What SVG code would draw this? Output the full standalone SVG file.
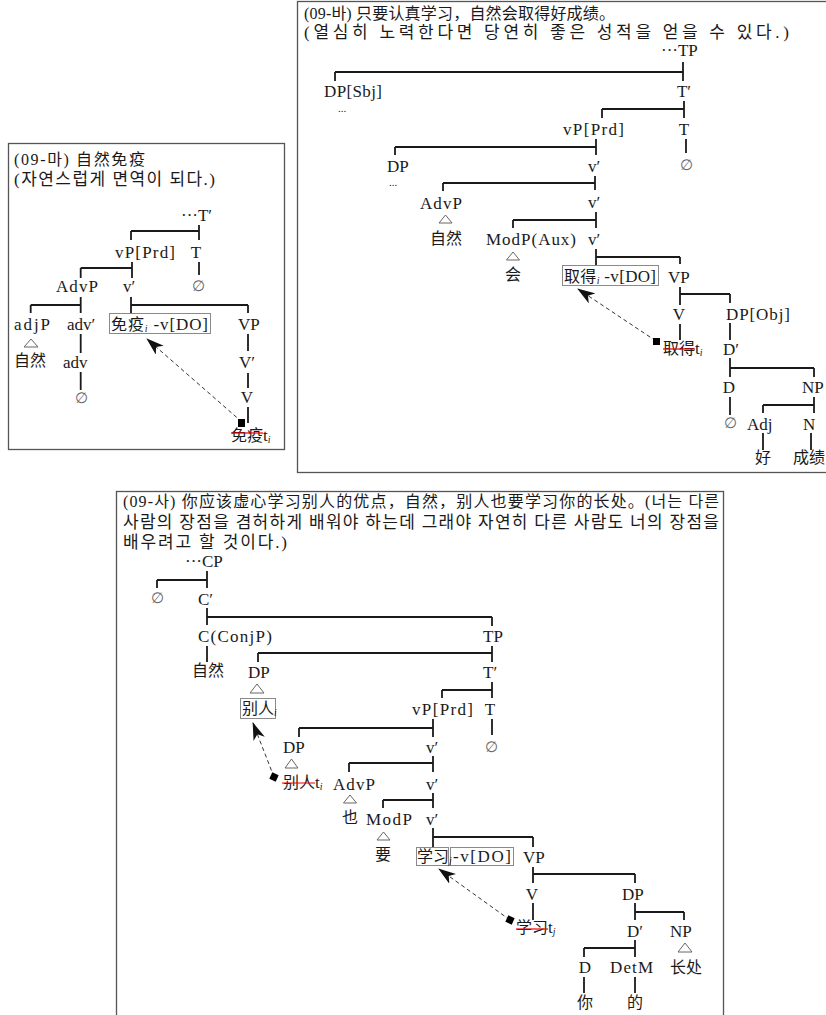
<svg xmlns="http://www.w3.org/2000/svg" width="826" height="1015" viewBox="0 0 826 1015">
<style>
.t{font-family:"Liberation Serif","Noto Sans CJK SC",serif;font-size:17px;fill:#1a1a1a}
.c{font-family:"Noto Sans CJK SC","Liberation Serif",sans-serif;font-size:16px;fill:#1a1a1a}
.h{font-family:"Liberation Serif","Noto Sans CJK SC","Noto Sans CJK KR",serif;font-size:16px;fill:#1a1a1a}
.hk{font-family:"Liberation Serif","Noto Sans CJK KR","Noto Sans CJK SC",serif;font-size:17px;fill:#1a1a1a}
.m{text-anchor:middle}
.e{font-family:"Liberation Serif","DejaVu Serif",serif;font-size:15px;fill:#666}
.dots{font-family:"Liberation Serif",serif;font-size:11px;fill:#1a1a1a}
.sub{font-size:10px;font-style:italic}
.ln{stroke:#1a1a1a;stroke-width:1.8;fill:none}
.bx{fill:none;stroke:#8a8a8a;stroke-width:1}
.fr{fill:none;stroke:#555;stroke-width:1.3}
.tri{fill:none;stroke:#666;stroke-width:1}
.ds{stroke:#333;stroke-width:1;stroke-dasharray:4 3;fill:none;marker-end:url(#ah)}
.st{stroke:#e00;stroke-width:1.2}
.sq{fill:#000}
</style>
<defs>
<marker id="ah" viewBox="0 0 18 12" refX="17" refY="6" markerWidth="18" markerHeight="12" markerUnits="userSpaceOnUse" orient="auto"><path d="M0,0 L18,6 L0,12 L5,6 Z" fill="#111"/></marker>
</defs>
<rect width="826" height="1015" fill="#fff"/>

<g id="frames">
<rect class="fr" x="8.5" y="143.5" width="276" height="306"/>
<rect class="fr" x="297.5" y="1.5" width="540" height="471"/>
<rect class="fr" x="116.5" y="491.5" width="607" height="540"/>
</g>

<g id="connectors">
<!-- left box -->
<path class="ln" d="M199,225V240 M131,231H199 M131,231V240"/>
<path class="ln" d="M199,262V275"/>
<path class="ln" d="M132,262V278 M80.7,268H132 M80.7,268V278"/>
<path class="ln" d="M80.7,297V313 M30.7,305H80.7 M30.7,305V313"/>
<path class="ln" d="M131,297V313 M131,305H248 M248,305V313"/>
<path class="ln" d="M80.7,334V353 M80.7,372V390"/>
<path class="ln" d="M248,334V351 M248,373V388 M248,407V423"/>
<line class="ds" x1="242" y1="422" x2="147" y2="339"/>
<!-- top right -->
<path class="ln" d="M683,62V81 M335,72H683 M335,72V81"/>
<path class="ln" d="M684,101V118 M602,109H684 M602,109V118"/>
<path class="ln" d="M686,139V153"/>
<path class="ln" d="M596,139V155 M395,147H596 M395,147V155"/>
<path class="ln" d="M595,176V190 M443,183H595 M443,183V191"/>
<path class="ln" d="M596,212V228 M513,220H596 M513,220V228"/>
<path class="ln" d="M596,249V265 M596,257H680 M680,257V264"/>
<path class="ln" d="M680,287V305 M680,294H730 M730,294V303"/>
<path class="ln" d="M680,324V340"/>
<path class="ln" d="M730,323V340 M730,358V377 M730,368H814 M814,368V377"/>
<path class="ln" d="M730,397V415"/>
<path class="ln" d="M814,397V413 M763,405H814 M763,405V413"/>
<path class="ln" d="M763,433V450 M811,433V450"/>
<line class="ds" x1="656" y1="341" x2="578" y2="289"/>
<!-- bottom -->
<path class="ln" d="M207,571V588 M157,580H207 M157,580V588"/>
<path class="ln" d="M207,608V625 M207,617H492 M492,617V626"/>
<path class="ln" d="M207,646V662"/>
<path class="ln" d="M492,646V662 M258,653H492 M258,653V662"/>
<path class="ln" d="M492,682V698 M442,690H492 M442,690V698"/>
<path class="ln" d="M492,719V735"/>
<path class="ln" d="M433,719V737 M299,728H433 M299,728V737"/>
<path class="ln" d="M433,756V772 M349,763H433 M349,763V772"/>
<path class="ln" d="M433,793V808 M383,800H433 M383,800V808"/>
<path class="ln" d="M433,828V847 M433,837H533 M533,837V847"/>
<path class="ln" d="M533,867V883 M533,874H635 M635,874V883"/>
<path class="ln" d="M533,903V920"/>
<path class="ln" d="M635,903V920 M635,912H684 M684,912V920"/>
<path class="ln" d="M635,940V957 M584,948H635 M584,948V957"/>
<path class="ln" d="M584,977V993 M635,977V993"/>
<line class="ds" x1="274" y1="777" x2="253" y2="723"/>
<line class="ds" x1="510" y1="920" x2="439" y2="869"/>
</g>

<!-- left box nodes -->
<g id="l-title">
<text class="h" x="14" y="165" textLength="131">(09-마) 自然免疫</text>
<text class="hk" x="14" y="185" textLength="201">(자연스럽게 면역이 되다.)</text>
</g>
<g id="l-Tbar"><text class="t" x="181" y="221">···T′</text></g>
<g id="l-vP"><text class="t" x="115" y="258" textLength="60">vP[Prd]</text></g>
<g id="l-T"><text class="t m" x="196" y="258">T</text></g>
<g id="l-Tnull"><text class="e m" x="198" y="291">∅</text></g>
<g id="l-AdvP"><text class="t" x="56" y="292" textLength="42">AdvP</text></g>
<g id="l-vbar"><text class="t" x="123" y="292">v′</text></g>
<g id="l-adjP"><text class="t" x="14" y="330" textLength="36">adjP</text><polygon class="tri" points="31,339 24,347 38,347"/></g>
<g id="l-advbar"><text class="t" x="67" y="330">adv′</text></g>
<g id="l-vhead"><rect class="bx" x="109.5" y="313.5" width="101" height="20"/><text class="t" x="111" y="330" textLength="97"><tspan class="c">免疫</tspan><tspan class="sub" dy="2">i</tspan><tspan dy="-2"> -v[DO]</tspan></text></g>
<g id="l-VP"><text class="t" x="238" y="330">VP</text></g>
<g id="l-zr"><text class="c" x="14" y="366">自然</text></g>
<g id="l-adv"><text class="t" x="63" y="368">adv</text></g>
<g id="l-advnull"><text class="e m" x="81" y="403">∅</text></g>
<g id="l-Vbar"><text class="t" x="239" y="368">V′</text></g>
<g id="l-V"><text class="t m" x="247" y="403">V</text></g>
<g id="l-trace"><text class="t" x="231" y="441"><tspan class="c">免疫</tspan>t<tspan class="sub" dy="2">i</tspan></text><line class="st" x1="231" y1="433" x2="263" y2="433"/><rect class="sq" x="238" y="419" width="7" height="8"/></g>

<!-- top right nodes -->
<g id="r-title">
<text class="h" x="304" y="19" textLength="311">(09-바) 只要认真学习，自然会取得好成绩。</text>
<text class="hk" x="304" y="38" textLength="485">(열심히 노력한다면 당연히 좋은 성적을 얻을 수 있다.)</text>
</g>
<g id="r-TP"><text class="t" x="661" y="56">···TP</text></g>
<g id="r-DPsbj"><text class="t" x="324" y="97" textLength="58">DP[Sbj]</text><text class="dots" x="338" y="112">...</text></g>
<g id="r-Tbar"><text class="t m" x="684" y="97">T′</text></g>
<g id="r-vP"><text class="t" x="563" y="135" textLength="61">vP[Prd]</text></g>
<g id="r-T"><text class="t m" x="684" y="135">T</text></g>
<g id="r-Tnull"><text class="e m" x="686" y="170">∅</text></g>
<g id="r-DP"><text class="t" x="387" y="172">DP</text><text class="dots" x="389" y="186">...</text></g>
<g id="r-vbar1"><text class="t" x="588" y="172">v′</text></g>
<g id="r-AdvP"><text class="t" x="420" y="209" textLength="42">AdvP</text><polygon class="tri" points="445.5,215 439,223 452,223"/><text class="c" x="430" y="244">自然</text></g>
<g id="r-vbar2"><text class="t" x="588" y="208">v′</text></g>
<g id="r-ModP"><text class="t" x="486" y="245" textLength="90">ModP(Aux)</text><polygon class="tri" points="513,252 506.5,260 519.5,260"/><text class="c" x="505" y="280">会</text></g>
<g id="r-vbar3"><text class="t" x="588" y="245">v′</text></g>
<g id="r-vhead"><rect class="bx" x="562.5" y="265.5" width="96" height="20"/><text class="t" x="564" y="282" textLength="92"><tspan class="c">取得</tspan><tspan class="sub" dy="2">i</tspan><tspan dy="-2"> -v[DO]</tspan></text></g>
<g id="r-VP"><text class="t" x="668" y="283">VP</text></g>
<g id="r-V"><text class="t m" x="679" y="320">V</text></g>
<g id="r-DPobj"><text class="t" x="726" y="320" textLength="64">DP[Obj]</text></g>
<g id="r-trace"><text class="t" x="663" y="354"><tspan class="c">取得</tspan>t<tspan class="sub" dy="2">i</tspan></text><line class="st" x1="663" y1="349" x2="695" y2="349"/><rect class="sq" x="653" y="338" width="7" height="7"/></g>
<g id="r-Dbar"><text class="t" x="723" y="355">D′</text></g>
<g id="r-D"><text class="t m" x="729" y="393">D</text></g>
<g id="r-Dnull"><text class="e m" x="730" y="428">∅</text></g>
<g id="r-NP"><text class="t" x="802" y="393">NP</text></g>
<g id="r-Adj"><text class="t" x="747" y="430">Adj</text></g>
<g id="r-N"><text class="t" x="803" y="430">N</text></g>
<g id="r-hao"><text class="c" x="755" y="463">好</text></g>
<g id="r-cj"><text class="c" x="793" y="463">成绩</text></g>

<!-- bottom nodes -->
<g id="b-title">
<text class="h" x="123" y="507" textLength="596">(09-사) 你应该虚心学习别人的优点，自然，别人也要学习你的长处。(너는 다른</text>
<text class="hk" x="123" y="528" textLength="596">사람의 장점을 겸허하게 배워야 하는데 그래야 자연히 다른 사람도 너의 장점을</text>
<text class="hk" x="123" y="548" textLength="164">배우려고 할 것이다.)</text>
</g>
<g id="b-CP"><text class="t" x="185" y="567">···CP</text></g>
<g id="b-Cnull"><text class="e m" x="157" y="603">∅</text></g>
<g id="b-Cbar"><text class="t" x="198" y="605">C′</text></g>
<g id="b-C"><text class="t" x="198" y="642" textLength="74">C(ConjP)</text></g>
<g id="b-zr"><text class="c" x="192" y="676">自然</text></g>
<g id="b-TP"><text class="t" x="483" y="642">TP</text></g>
<g id="b-DP1"><text class="t" x="248" y="678">DP</text><polygon class="tri" points="257,684 250,693 264,693"/><rect class="bx" x="240.5" y="698.5" width="35" height="20"/><text class="t" x="242" y="714"><tspan class="c">别人</tspan><tspan class="sub" dy="2">i</tspan></text></g>
<g id="b-Tbar"><text class="t" x="483" y="678">T′</text></g>
<g id="b-vP"><text class="t" x="412" y="715" textLength="61">vP[Prd]</text></g>
<g id="b-T"><text class="t m" x="490" y="715">T</text></g>
<g id="b-Tnull"><text class="e m" x="491" y="752">∅</text></g>
<g id="b-DP2"><text class="t" x="283" y="753">DP</text><polygon class="tri" points="291.5,759 285,768 298,768"/></g>
<g id="b-trace1"><text class="t" x="283" y="788"><tspan class="c">别人</tspan>t<tspan class="sub" dy="2">i</tspan></text><line class="st" x1="282" y1="783" x2="315" y2="783"/><rect class="sq" x="270.5" y="773.5" width="7" height="7" transform="rotate(25 274 777)"/></g>
<g id="b-vbar1"><text class="t" x="426" y="753">v′</text></g>
<g id="b-AdvP"><text class="t" x="333" y="790" textLength="42">AdvP</text><polygon class="tri" points="350,795 343.5,803 356.5,803"/><text class="c" x="342" y="823">也</text></g>
<g id="b-vbar2"><text class="t" x="426" y="790">v′</text></g>
<g id="b-ModP"><text class="t" x="366" y="825" textLength="46">ModP</text><polygon class="tri" points="383.5,832 377,840 390,840"/><text class="c" x="375" y="860">要</text></g>
<g id="b-vbar3"><text class="t" x="426" y="825">v′</text></g>
<g id="b-vhead"><rect class="bx" x="416.5" y="847.5" width="32" height="18"/><rect class="bx" x="450.5" y="847.5" width="63" height="18"/><text class="t" x="417" y="862"><tspan class="c">学习</tspan><tspan class="sub" dy="2">j</tspan></text><text class="t" x="453" y="862" textLength="58">-v[DO]</text></g>
<g id="b-VP"><text class="t" x="523" y="863">VP</text></g>
<g id="b-V"><text class="t m" x="532" y="900">V</text></g>
<g id="b-trace2"><text class="t" x="516" y="933"><tspan class="c">学习</tspan>t<tspan class="sub" dy="2">j</tspan></text><line class="st" x1="516" y1="929" x2="548" y2="929"/><rect class="sq" x="506.5" y="916.5" width="7" height="7" transform="rotate(25 510 920)"/></g>
<g id="b-DP3"><text class="t" x="622" y="900">DP</text></g>
<g id="b-Dbar"><text class="t" x="627" y="937">D′</text></g>
<g id="b-NP"><text class="t" x="670" y="937">NP</text><polygon class="tri" points="685,943 678,952 692,952"/><text class="c" x="670" y="973">长处</text></g>
<g id="b-D"><text class="t m" x="585" y="973">D</text></g>
<g id="b-DetM"><text class="t" x="610" y="973" textLength="43">DetM</text></g>
<g id="b-ni"><text class="c" x="577" y="1008">你</text></g>
<g id="b-de"><text class="c" x="627" y="1008">的</text></g>
</svg>
